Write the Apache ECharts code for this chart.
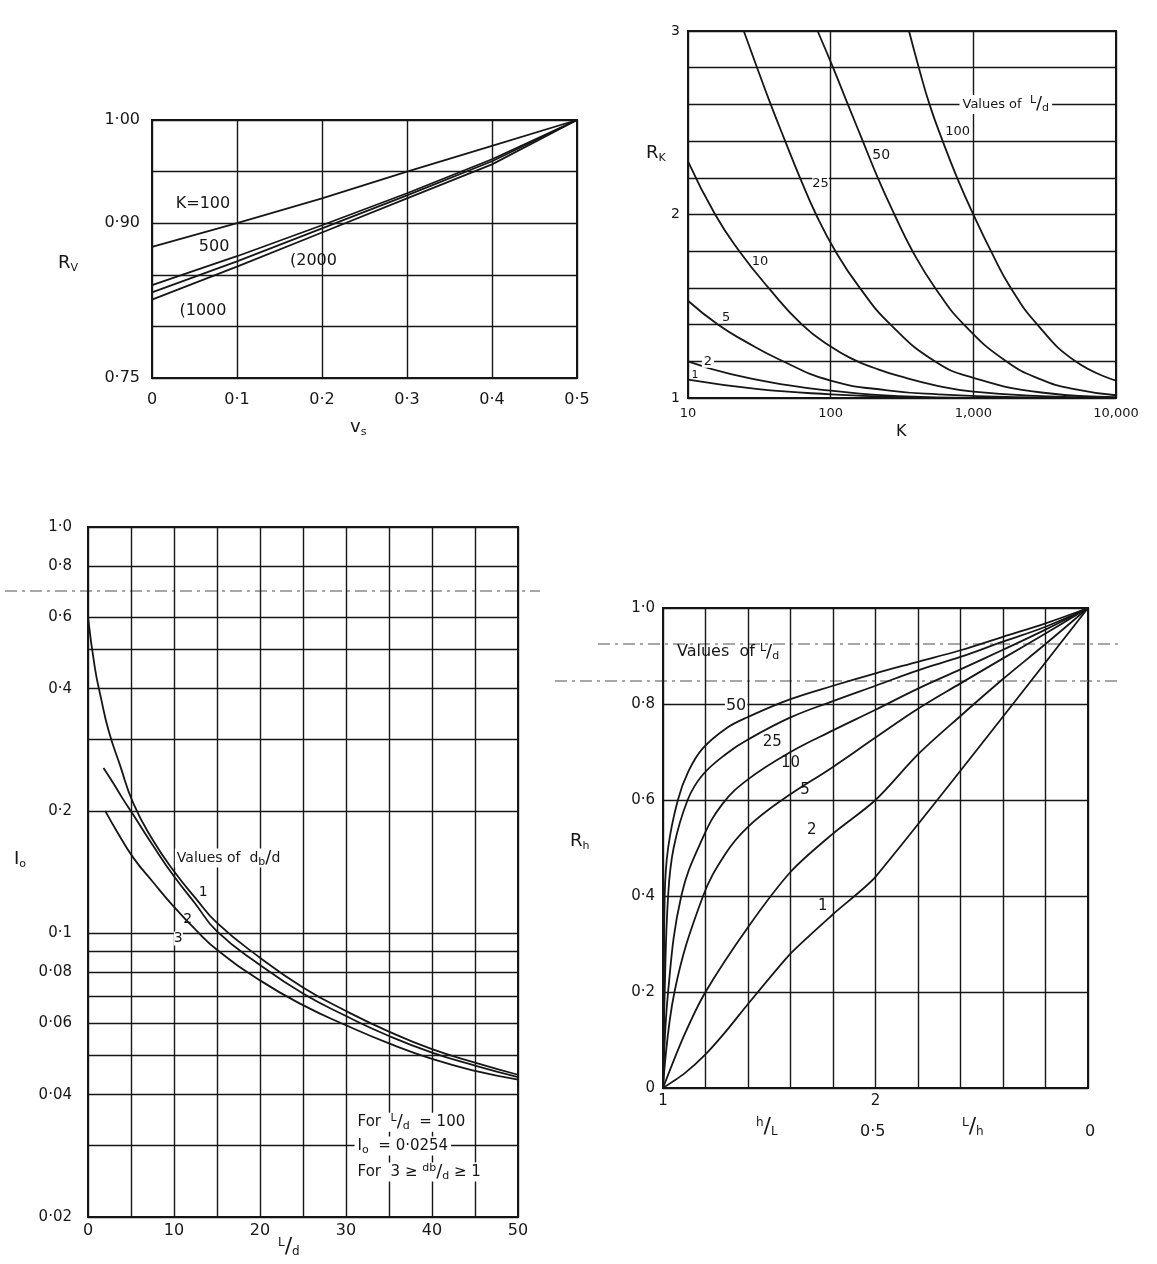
<!DOCTYPE html>
<html>
<head>
<meta charset="utf-8">
<title>Pile settlement correction factors</title>
<script src="https://cdn.jsdelivr.net/npm/echarts@6.0.0/dist/echarts.min.js"></script>
<style>
  html, body { margin: 0; padding: 0; background: #fff; }
  #main { width: 1157px; height: 1264px; }
</style>
</head>
<body>
<div id="main"></div>
<script>
var FONT = 'DejaVu Sans';
var INK = '#161616';

// ---- Rv against vs, one line per K
var vsValues = [0, 0.1, 0.2, 0.3, 0.4, 0.5];
var rvK100  = [0.877, 0.900, 0.924, 0.950, 0.975, 1.0];
var rvK500  = [0.840, 0.868, 0.898, 0.929, 0.962, 1.0];
var rvK2000 = [0.833, 0.863, 0.895, 0.927, 0.960, 1.0];
var rvK1000 = [0.826, 0.858, 0.891, 0.924, 0.957, 1.0];
var rvLabelled = [0.75, 0.9, 1.0];

// ---- Rk against K (log), [K, Rk] for each L/d
var rkLd1   = [[10, 1.10], [30, 1.05], [100, 1.02], [300, 1.005], [1000, 1.0], [10000, 1.0]];
var rkLd2   = [[10, 1.20], [20, 1.13], [50, 1.07], [100, 1.04], [300, 1.01], [1000, 1.0], [10000, 1.0]];
var rkLd5   = [[10, 1.53], [16.2, 1.40], [25, 1.31], [43.6, 1.21], [100, 1.095], [250, 1.042], [570, 1.02], [2000, 1.005], [10000, 1.0]];
var rkLd10  = [[10, 2.29], [15.5, 2.0], [22.9, 1.8], [36.7, 1.6], [63, 1.4], [100, 1.28], [149, 1.205], [200, 1.165], [300, 1.12], [570, 1.065], [1000, 1.035], [3000, 1.01], [10000, 1.0]];
var rkLd25  = [[24.6, 3.0], [30.5, 2.8], [38, 2.6], [48, 2.4], [61, 2.2], [79, 2.0], [108, 1.8], [160, 1.6], [263, 1.4], [537, 1.2], [1000, 1.11], [3000, 1.03], [10000, 1.005]];
var rkLd50  = [[81, 3.0], [104, 2.8], [132, 2.6], [168, 2.4], [214, 2.2], [280, 2.0], [375, 1.8], [540, 1.6], [860, 1.4], [1700, 1.2], [3000, 1.1], [5000, 1.05], [10000, 1.015]];
var rkLd100 = [[354, 3.0], [415, 2.8], [493, 2.6], [610, 2.4], [770, 2.2], [1000, 2.0], [1330, 1.8], [1830, 1.6], [2810, 1.4], [5200, 1.2], [10000, 1.095]];

// ---- Io against L/d (log Io), [L/d, Io] for each db/d
var ioDb1 = [[0, 0.60], [0.8, 0.45], [1.5, 0.38], [2.4, 0.315], [3.7, 0.26], [5.3, 0.208], [7.5, 0.170], [10, 0.142], [12.5, 0.122], [15, 0.106], [20, 0.087], [25, 0.0735], [30, 0.0643], [35, 0.0572], [40, 0.0518], [45, 0.048], [50, 0.0448]];
var ioDb2 = [[1.8, 0.255], [3, 0.233], [4, 0.215], [5.3, 0.195], [7.5, 0.165], [10, 0.138], [12.5, 0.118], [15, 0.101], [20, 0.0835], [25, 0.0710], [30, 0.0625], [35, 0.0558], [40, 0.0508], [45, 0.0472], [50, 0.0442]];
var ioDb3 = [[2, 0.200], [3.5, 0.176], [5.3, 0.153], [7.5, 0.134], [10, 0.116], [12.5, 0.102], [15, 0.091], [20, 0.0765], [25, 0.0665], [30, 0.0593], [35, 0.0535], [40, 0.049], [45, 0.0458], [50, 0.0436]];
var ioLabelTicks = [0.02, 0.04, 0.06, 0.08, 0.1, 0.2, 0.4, 0.6, 0.8, 1.0];
var ioGridValues = [0.02, 0.03, 0.04, 0.05, 0.06, 0.07, 0.08, 0.09, 0.1, 0.2, 0.3, 0.4, 0.5, 0.6, 0.8, 1.0];

// ---- Rh: x runs 0..10 over two half scales (h/L 1 -> 2, then L/h 0.5 -> 0)
var rhTickText = { 0: '1', 5: '2' };
var rhLd50 = [[0, 0], [0.02, 0.2], [0.04, 0.4], [0.12, 0.5], [0.35, 0.6], [0.6, 0.66], [0.93, 0.707], [1.5, 0.75], [2, 0.773], [3, 0.81], [4, 0.838], [5, 0.864], [6, 0.888], [7, 0.912], [8, 0.94], [9, 0.968], [10, 1.0]];
var rhLd25 = [[0, 0], [0.04, 0.2], [0.12, 0.4], [0.25, 0.5], [0.58, 0.6], [0.93, 0.652], [1.5, 0.697], [2, 0.726], [3, 0.772], [4, 0.806], [5, 0.838], [6, 0.87], [7, 0.898], [8, 0.93], [9, 0.961], [10, 1.0]];
var rhLd10 = [[0, 0], [0.12, 0.2], [0.43, 0.4], [0.93, 0.52], [1.4, 0.592], [2, 0.643], [3, 0.70], [4, 0.745], [5, 0.788], [6, 0.832], [7, 0.872], [8, 0.913], [9, 0.955], [10, 1.0]];
var rhLd5  = [[0, 0], [0.27, 0.2], [0.93, 0.397], [1.47, 0.488], [2, 0.544], [2.8, 0.6], [4, 0.669], [5, 0.73], [6, 0.79], [7, 0.843], [8, 0.895], [9, 0.947], [10, 1.0]];
var rhLd2  = [[0, 0], [0.5, 0.11], [1, 0.2], [2, 0.335], [3, 0.45], [4, 0.53], [5, 0.6], [6, 0.695], [7, 0.775], [8, 0.852], [9, 0.925], [10, 1.0]];
var rhLd1  = [[0, 0], [0.5, 0.03], [1, 0.07], [1.5, 0.12], [2, 0.175], [3, 0.28], [4, 0.362], [5, 0.44], [10, 1.0]];

function dot(v) { return String(v).replace('.', '\u00b7'); }
function near(v, list) { return list.some(function (t) { return Math.abs(v - t) < 1e-6; }); }
function pairs(xs, ys) { return xs.map(function (x, i) { return [x, ys[i]]; }); }

var RICH = {
  sup: { fontSize: 11, fontFamily: FONT, color: INK, padding: [0, 0, 8, 0] },
  sub: { fontSize: 11, fontFamily: FONT, color: INK, padding: [8, 0, 0, 0] },
  sl:  { fontSize: 18, fontFamily: FONT, color: INK }
};

function curve(data, gi, smooth) {
  return {
    type: 'line', xAxisIndex: gi, yAxisIndex: gi, data: data,
    symbol: 'none', smooth: smooth || 0, silent: true, z: 3,
    lineStyle: { color: INK, width: 1.8 }
  };
}

function note(x, y, text, opt) {
  var label = { show: true, position: 'inside', formatter: text, color: INK,
    fontFamily: FONT, fontSize: 15, rich: RICH };
  for (var k in (opt || {})) label[k] = opt[k];
  return { coord: [x, y], label: label };
}

function notes(gi, items) {
  return {
    type: 'scatter', xAxisIndex: gi, yAxisIndex: gi, data: [], silent: true, z: 6,
    markPoint: { symbol: 'circle', symbolSize: 0, silent: true, data: items }
  };
}

function gridBox(left, top, width, height) {
  return { left: left, top: top, width: width, height: height, show: true,
    borderColor: INK, borderWidth: 2, backgroundColor: 'transparent', containLabel: false };
}

function axis(gi, extra) {
  var a = {
    gridIndex: gi, type: 'value',
    axisLine: { show: true, lineStyle: { color: INK, width: 2 } },
    axisTick: { show: false },
    splitLine: { show: true, lineStyle: { color: INK, width: 1.4 } },
    axisLabel: { color: INK, fontSize: 16, fontFamily: FONT, margin: 10 }
  };
  for (var k in extra) {
    if (k === 'axisLabel') {
      for (var j in extra.axisLabel) a.axisLabel[j] = extra.axisLabel[j];
    } else {
      a[k] = extra[k];
    }
  }
  return a;
}

var GRICH = {
  m:  { fontSize: 18, fontFamily: FONT, fill: INK },
  s:  { fontSize: 11, fontFamily: FONT, fill: INK, padding: [10, 0, 0, 0] },
  u:  { fontSize: 12, fontFamily: FONT, fill: INK, padding: [0, 0, 9, 0] },
  d:  { fontSize: 12, fontFamily: FONT, fill: INK, padding: [9, 0, 0, 0] },
  sl: { fontSize: 22, fontFamily: FONT, fill: INK },
  n:  { fontSize: 16, fontFamily: FONT, fill: INK }
};

function title(x, y, text) {
  return { type: 'text', left: x, top: y, silent: true,
    style: { text: text, fill: INK, font: '17px "DejaVu Sans"', rich: GRICH } };
}

function scanLine(x1, y, x2) {
  return { type: 'line', silent: true, shape: { x1: x1, y1: y, x2: x2, y2: y },
    style: { stroke: '#8a8a8a', lineWidth: 1.5, lineDash: [12, 5, 3, 5] } };
}

var chart = echarts.init(document.getElementById('main'));

var option = {
  backgroundColor: '#fff',
  animation: false,
  grid: [
    gridBox(152, 120, 425, 258),
    gridBox(688, 31, 428, 367),
    gridBox(88, 527, 430, 690),
    gridBox(663, 608, 425, 480)
  ],
  xAxis: [
    axis(0, { min: 0, max: 0.5, interval: 0.1,
      axisLabel: { margin: 14, formatter: function (v) { return v === 0 ? '0' : dot(v.toFixed(1)); } } }),
    axis(1, { type: 'log', logBase: 10, min: 10, max: 10000,
      minorTick: { show: false },
      axisLabel: { fontSize: 13, margin: 9, formatter: function (v) { return Math.round(v).toLocaleString('en-US'); } } }),
    axis(2, { min: 0, max: 50, interval: 5,
      axisLabel: { margin: 6, formatter: function (v) { return v % 10 === 0 ? String(v) : ''; } } }),
    axis(3, { min: 0, max: 10, interval: 1,
      axisLabel: { margin: 6, fontSize: 15, formatter: function (v) { return rhTickText[v] || ''; } } })
  ],
  yAxis: [
    axis(0, { min: 0.75, max: 1.0, interval: 0.05,
      axisLabel: { margin: 12, formatter: function (v) { return near(v, rvLabelled) ? dot(v.toFixed(2)) : ''; } } }),
    axis(1, { min: 1, max: 3, interval: 0.2,
      axisLabel: { fontSize: 14, margin: 8, formatter: function (v) { return near(v, [1, 2, 3]) ? String(Math.round(v)) : ''; } } }),
    axis(2, { type: 'log', logBase: 10, min: 0.02, max: 1,
      splitLine: { show: false }, minorTick: { show: false },
      axisLabel: { margin: 16, fontSize: 15, customValues: ioLabelTicks,
        formatter: function (v) { return v >= 1 ? '1\u00b70' : dot(+v.toPrecision(2)); } } }),
    axis(3, { min: 0, max: 1, interval: 0.2,
      axisLabel: { margin: 8, fontSize: 15, formatter: function (v) { return v === 0 ? '0' : dot(v.toFixed(1)); } } })
  ],
  series: [
    curve(pairs(vsValues, rvK100), 0),
    curve(pairs(vsValues, rvK500), 0),
    curve(pairs(vsValues, rvK2000), 0),
    curve(pairs(vsValues, rvK1000), 0),
    notes(0, [
      note(0.06, 0.919, 'K=100', { fontSize: 16 }),
      note(0.073, 0.877, '500', { fontSize: 16 }),
      note(0.19, 0.864, '(2000', { fontSize: 16 }),
      note(0.06, 0.815, '(1000', { fontSize: 16 })
    ]),

    curve(rkLd1, 1, 0.5),
    curve(rkLd2, 1, 0.5),
    curve(rkLd5, 1, 0.5),
    curve(rkLd10, 1, 0.5),
    curve(rkLd25, 1, 0.5),
    curve(rkLd50, 1, 0.5),
    curve(rkLd100, 1, 0.5),
    notes(1, [
      note(800, 2.6, 'Values of  {sup|L}{sl|/}{sub|d}', { align: 'left', fontSize: 13, backgroundColor: '#fff', padding: [0, 3] }),
      note(776, 2.45, '100', { fontSize: 13, backgroundColor: '#fff' }),
      note(226, 2.32, '50', { fontSize: 14 }),
      note(85, 2.17, '25', { fontSize: 13, backgroundColor: '#fff' }),
      note(32, 1.745, '10', { fontSize: 13 }),
      note(18.5, 1.44, '5', { fontSize: 13 }),
      note(13.8, 1.2, '2', { fontSize: 13, backgroundColor: '#fff', padding: [0, 2] }),
      note(11.2, 1.125, '1', { fontSize: 11 })
    ]),

    (function () {
      var s = curve(ioDb1, 2, 0.5);
      s.markLine = { silent: true, symbol: ['none', 'none'], label: { show: false },
        lineStyle: { color: INK, width: 1.4, type: 'solid' },
        data: ioGridValues.map(function (v) { return { yAxis: v }; }) };
      return s;
    })(),
    curve(ioDb2, 2, 0.5),
    curve(ioDb3, 2, 0.5),
    notes(2, [
      note(10.1, 0.153, 'Values of  d{sub|b}{sl|/}d', { align: 'left', fontSize: 14, backgroundColor: '#fff', padding: [0, 2] }),
      note(13.4, 0.126, '1', { fontSize: 14 }),
      note(11.6, 0.108, '2', { fontSize: 14 }),
      note(10.5, 0.097, '3', { fontSize: 14, backgroundColor: '#fff' }),
      note(31, 0.0342, 'For  {sup|L}{sl|/}{sub|d}  = 100', { align: 'left', fontSize: 15, backgroundColor: '#fff', padding: [0, 3] }),
      note(31, 0.0299, 'I{sub|o}  = 0\u00b70254', { align: 'left', fontSize: 15, backgroundColor: '#fff', padding: [0, 3] }),
      note(31, 0.0258, 'For  3 \u2265 {sup|d}{sup|b}{sl|/}{sub|d} \u2265 1', { align: 'left', fontSize: 15, backgroundColor: '#fff', padding: [0, 3] })
    ]),

    curve(rhLd50, 3, 0.4),
    curve(rhLd25, 3, 0.4),
    curve(rhLd10, 3, 0.4),
    curve(rhLd5, 3, 0.4),
    curve(rhLd2, 3, 0.3),
    curve(rhLd1, 3, 0.2),
    notes(3, [
      note(0.33, 0.908, 'Values  of {sup|L}{sl|/}{sub|d}', { align: 'left', fontSize: 16 }),
      note(1.72, 0.797, '50', { fontSize: 16, backgroundColor: '#fff', padding: [0, 1] }),
      note(2.57, 0.72, '25', { fontSize: 15 }),
      note(3.0, 0.677, '10', { fontSize: 15 }),
      note(3.34, 0.621, '5', { fontSize: 15 }),
      note(3.5, 0.538, '2', { fontSize: 15 }),
      note(3.76, 0.378, '1', { fontSize: 15 })
    ])
  ],
  graphic: [
    title(58, 254, '{m|R}{s|V}'),
    title(350, 418, '{m|v}{s|s}'),
    title(646, 144, '{m|R}{s|K}'),
    title(896, 424, '{n|K}'),
    title(14, 850, '{m|I}{s|o}'),
    title(278, 1236, '{u|L}{sl|/}{d|d}'),
    title(570, 832, '{m|R}{s|h}'),
    title(756, 1116, '{u|h}{sl|/}{d|L}'),
    title(860, 1124, '{n|0\u00b75}'),
    title(962, 1116, '{u|L}{sl|/}{d|h}'),
    title(1085, 1124, '{n|0}'),
    scanLine(5, 591, 540),
    scanLine(598, 644, 1118),
    scanLine(555, 681, 1122)
  ]
};

chart.setOption(option);
</script>
</body>
</html>
